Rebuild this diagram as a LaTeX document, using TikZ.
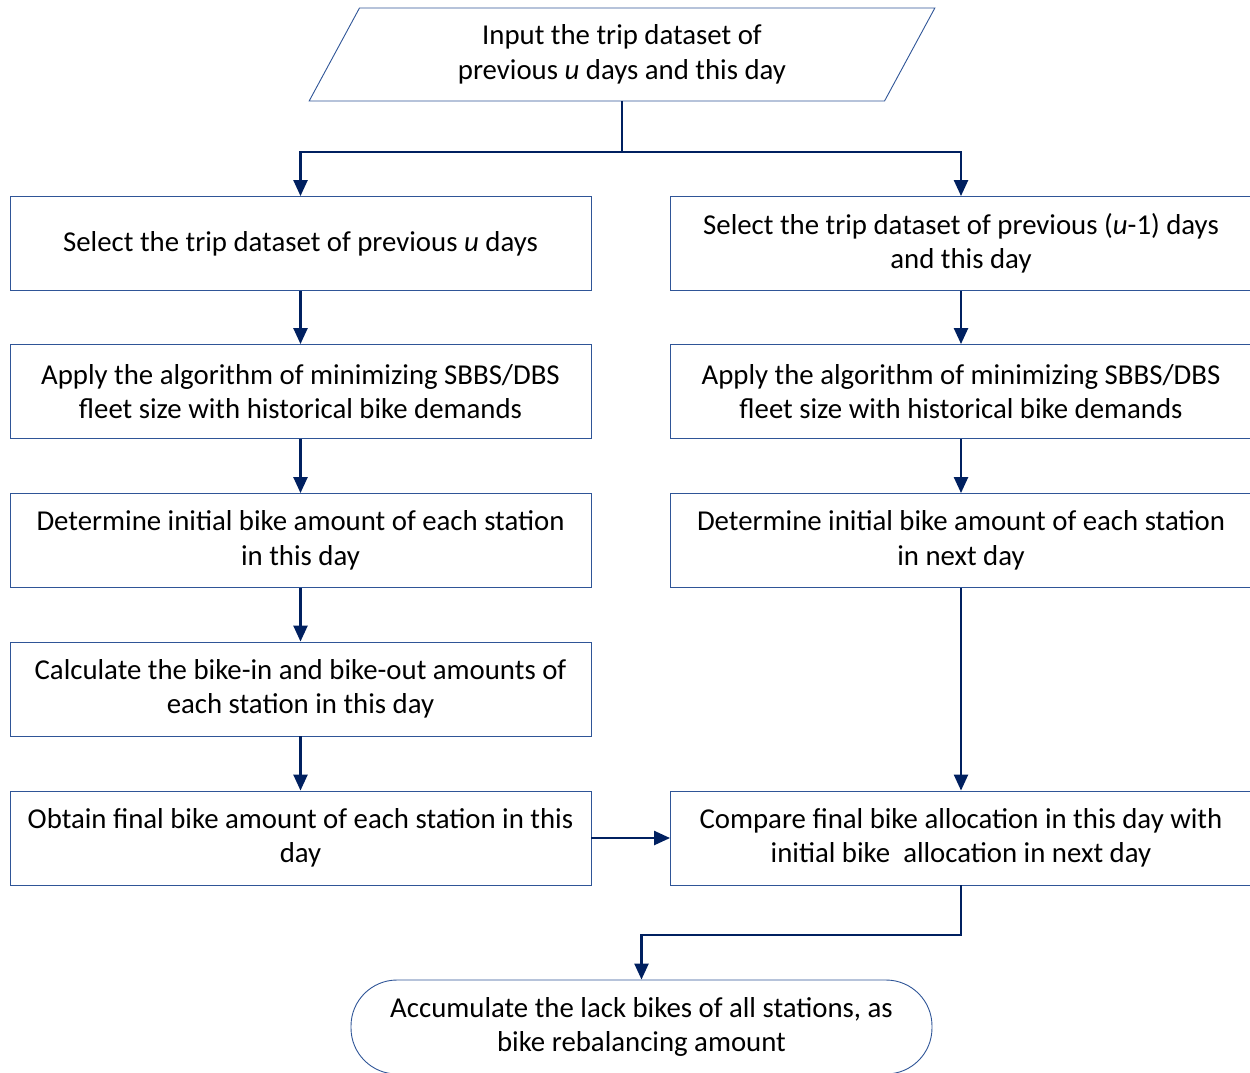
\documentclass[tikz,border=0pt]{standalone}
\usepackage{fontspec}
\setmainfont{Carlito}
\usetikzlibrary{shapes.geometric,arrows.meta,positioning}
\definecolor{navy}{HTML}{002060}
\definecolor{boxline}{HTML}{2F5597}

\begin{document}
\begin{tikzpicture}[x=1pt,y=-1pt,
          step box/.style={draw=boxline,
              line width=0.9pt,
              minimum width=581pt,
              minimum height=94pt,
              inner sep=0pt,
              align=center,
              font=\fontsize{28.8}{34.5}\selectfont},
          io box/.style={step box,
              trapezium,
              trapezium left angle=62,
              trapezium right angle=118,
              trapezium stretches=true,
              minimum width=628pt,
              minimum height=93pt},
          end box/.style={step box,
              rounded corners=46pt},
          link/.style={draw=navy, line width=2.4pt},
          flow/.style={link, -{Triangle[length=16pt,width=14pt]}},
        ]
        \useasboundingbox (0,0) rectangle (1250,1072);

        \node[io box] (input) at (622,54.5) {Input the trip dataset of\\previous \textit{u} days and this day};

        % left branch
        \node[step box] (sel1) at (300.5,243.5) {Select the trip dataset of previous \textit{u} days};
        \node[step box] (alg1) at (300.5,391.5) {Apply the algorithm of minimizing SBBS/DBS\\fleet size with historical bike demands};
        \node[step box] (ini1) at (300.5,540.5) {Determine initial bike amount of each station\\in this day};
        \node[step box] (calc) at (300.5,689) {Calculate the bike-in and bike-out amounts of\\each station in this day};
        \node[step box] (fin)  at (300.5,838) {Obtain final bike amount of each station in this\\day};

        % right branch
        \node[step box] (sel2) at (961,243.5) {Select the trip dataset of previous (\textit{u}-1) days\\and this day};
        \node[step box] (alg2) at (961,391.5) {Apply the algorithm of minimizing SBBS/DBS\\fleet size with historical bike demands};
        \node[step box] (ini2) at (961,540.5) {Determine initial bike amount of each station\\in next day};
        \node[step box] (comp) at (961,838) {Compare final bike allocation in this day with\\initial bike\ \ allocation in next day};

        \node[end box] (acc) at (641.5,1027) {Accumulate the lack bikes of all stations, as\\bike rebalancing amount};

        \coordinate (split) at (input.center |- 0,152);
        \coordinate (join) at (comp.south |- 0,935);

        \draw[link] (input.center |- input.bottom side) -- (split);
        \draw[flow] (split) -| (sel1.north);
        \draw[flow] (split) -| (sel2.north);

        \draw[flow] (sel1) -- (alg1);
        \draw[flow] (alg1) -- (ini1);
        \draw[flow] (ini1) -- (calc);
        \draw[flow] (calc) -- (fin);

        \draw[flow] (sel2) -- (alg2);
        \draw[flow] (alg2) -- (ini2);
        \draw[flow] (ini2) -- (comp);

        \draw[flow] (fin) -- (comp);
        \draw[flow] (comp.south) -- (join) -| (acc.north);
      \end{tikzpicture}
\end{document}
